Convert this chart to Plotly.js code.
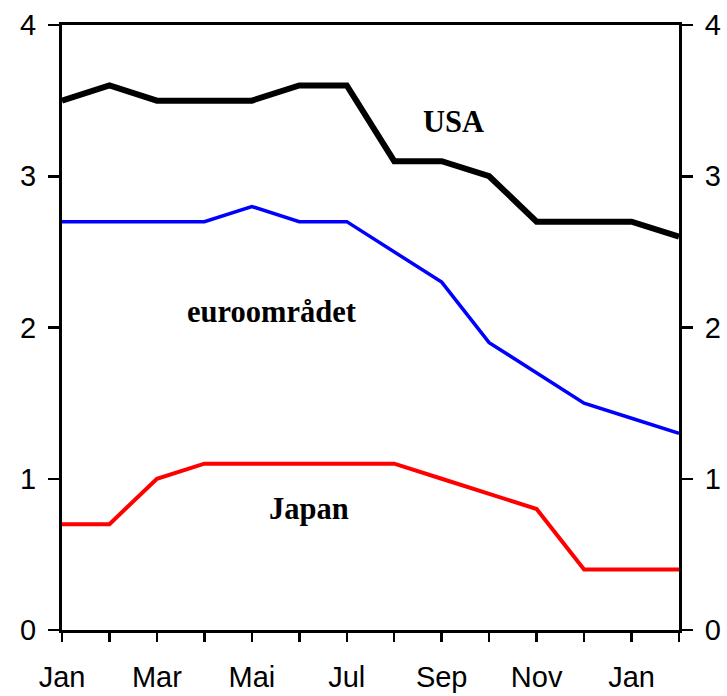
<!DOCTYPE html>
<html>
<head>
<meta charset="utf-8">
<script src="https://cdn.plot.ly/plotly-3.0.1.min.js"></script>
<style>html,body{margin:0;padding:0;background:#fff;}#chart{width:727px;height:696px;}</style>
</head>
<body>
<div id="chart"></div>
<script>
const months = ["Jan","Feb","Mar","Apr","Mai","Jun","Jul","Aug","Sep","Okt","Nov","Des","Jan","Feb"];
const tickLabels = ["Jan","","Mar","","Mai","","Jul","","Sep","","Nov","","Jan",""];
const usa = [3.5,3.6,3.5,3.5,3.5,3.6,3.6,3.1,3.1,3.0,2.7,2.7,2.7,2.6];
const euro = [2.7,2.7,2.7,2.7,2.8,2.7,2.7,2.5,2.3,1.9,1.7,1.5,1.4,1.3];
const japan = [0.7,0.7,1.0,1.1,1.1,1.1,1.1,1.1,1.0,0.9,0.8,0.4,0.4,0.4];
const yTicks = [0,1,2,3,4];

const x = months.map((m,i)=>i);
const traces = [
  {x:x, y:usa, mode:'lines', line:{color:'#000000', width:6}, name:'USA'},
  {x:x, y:euro, mode:'lines', line:{color:'#0000ff', width:3.5}, name:'euroområdet'},
  {x:x, y:japan, mode:'lines', line:{color:'#ff0000', width:4}, name:'Japan'},
  {x:x, y:usa, yaxis:'y2', mode:'lines', line:{width:0}, hoverinfo:'skip', showlegend:false, opacity:0}
];
const tickFont = {family:'Liberation Sans, Arial, sans-serif', size:29, color:'#000'};
const annFont = {family:'Liberation Serif, Times New Roman, serif', size:30.5, color:'#000'};
const layout = {
  width:727, height:696,
  margin:{l:62, r:48, t:25, b:66},
  paper_bgcolor:'#fff', plot_bgcolor:'#fff',
  showlegend:false,
  xaxis:{range:[0,13], tickvals:x, ticktext:tickLabels, ticks:'outside', ticklen:9, tickwidth:2.5,
         tickcolor:'#000', showline:true, linecolor:'#000', linewidth:3, mirror:true,
         showgrid:false, zeroline:false, tickfont:tickFont, ticklabelstandoff:10},
  yaxis:{range:[0,4], tickvals:yTicks, ticks:'outside', ticklen:11, tickwidth:2.5, tickcolor:'#000',
         showline:true, linecolor:'#000', linewidth:3, showgrid:false, zeroline:false, tickfont:tickFont,
         ticklabelstandoff:6},
  yaxis2:{range:[0,4], tickvals:yTicks, overlaying:'y', side:'right', ticks:'outside', ticklen:11, tickwidth:2.5,
          tickcolor:'#000', showline:true, linecolor:'#000', linewidth:3, showgrid:false, zeroline:false, tickfont:tickFont,
          ticklabelstandoff:6},
  annotations:[
    {x:8.25, y:3.36, xref:'x', yref:'y', text:'<b>USA</b>', showarrow:false, font:annFont},
    {x:4.42, y:2.1, xref:'x', yref:'y', text:'<b>euroområdet</b>', showarrow:false, font:annFont},
    {x:5.2, y:0.8, xref:'x', yref:'y', text:'<b>Japan</b>', showarrow:false, font:annFont}
  ]
};
Plotly.newPlot('chart', traces, layout, {displayModeBar:false, staticPlot:true});
</script>
</body>
</html>
